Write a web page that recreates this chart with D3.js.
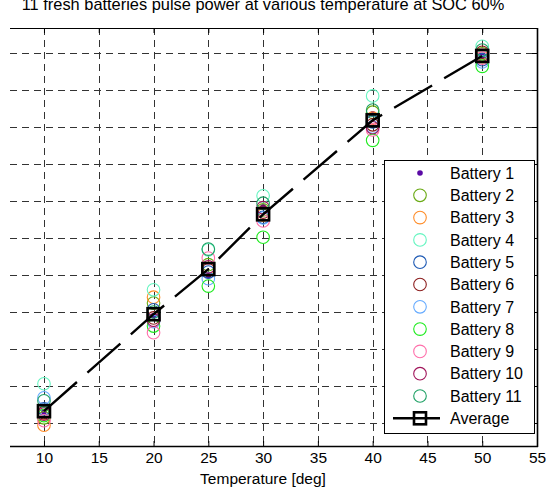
<!DOCTYPE html>
<html>
<head>
<meta charset="utf-8">
<script src="https://cdn.jsdelivr.net/npm/d3@7"></script>
<style>
  html, body { margin: 0; padding: 0; background: #fff; }
  svg { display: block; font-family: "Liberation Sans", Arial, sans-serif; }
</style>
</head>
<body>
<svg id="chart" width="554" height="489"></svg>
<script>
// Pulse power (W) of each battery at each test temperature (deg C)
const temperatures = [10, 20, 25, 30, 40, 50];
const battery1  = [315, 445, 499, 592, 718, 796];
const battery2  = [307, 462, 514, 588, 720, 799];
const battery3  = [297, 470, 509, 581, 712, 795];
const battery4  = [353, 480, 534, 607, 742, 809];
const battery5  = [319, 453, 504, 578, 707, 791];
const battery6  = [314, 442, 507, 585, 703, 801];
const battery7  = [334, 437, 495, 577, 700, 788];
const battery8  = [310, 431, 485, 551, 682, 782];
const battery9  = [303, 422, 523, 573, 696, 793];
const battery10 = [312, 439, 511, 591, 699, 797];
const battery11 = [330, 450, 535, 597, 723, 804];
const average   = [316, 447, 508, 582, 709, 796];

const seriesNames = ["Battery 1", "Battery 2", "Battery 3", "Battery 4", "Battery 5", "Battery 6",
                     "Battery 7", "Battery 8", "Battery 9", "Battery 10", "Battery 11"];
const seriesColors = ["#5a0aa5", "#6aaa14", "#ff8c28", "#64f5c0", "#1e5ab4", "#8c1e1e",
                      "#64aaff", "#1eeb1e", "#ff6eaa", "#a0145a", "#1ea064"];
const seriesValues = [battery1, battery2, battery3, battery4, battery5, battery6,
                      battery7, battery8, battery9, battery10, battery11];

const xTicks = [10, 15, 20, 25, 30, 35, 40, 45, 50, 55];
const yTicks = [300, 350, 400, 450, 500, 550, 600, 650, 700, 750, 800];

const svg = d3.select("#chart");

// plot area (left part of the axes falls outside the figure)
const plotLeft = 10, plotRight = 537, plotTop = 28, plotBottom = 446;

const x = d3.scaleLinear().domain([5, 55]).range([-10.8, 537]);
const y = d3.scaleLinear().domain([268.9, 833.8]).range([plotBottom, plotTop]);

svg.append("defs").append("clipPath").attr("id", "plotClip")
  .append("rect")
  .attr("x", plotLeft).attr("y", plotTop - 2)
  .attr("width", plotRight - plotLeft + 2).attr("height", plotBottom - plotTop + 4);

// title
svg.append("text")
  .attr("x", 263).attr("y", 10)
  .attr("text-anchor", "middle")
  .attr("font-size", 16.4)
  .attr("fill", "#000")
  .text("11 fresh batteries pulse power at various temperature at SOC 60%");

const plot = svg.append("g").attr("clip-path", "url(#plotClip)");

// dashed grid
const gridStyle = sel => sel.attr("stroke", "#333").attr("stroke-width", 1)
  .attr("stroke-dasharray", "7,5").attr("shape-rendering", "crispEdges");

plot.append("g").selectAll("line")
  .data(xTicks.filter(t => t < 55))
  .join("line")
  .attr("x1", d => Math.round(x(d)) + 0.5).attr("x2", d => Math.round(x(d)) + 0.5)
  .attr("y1", plotTop).attr("y2", plotBottom)
  .call(gridStyle);

plot.append("g").selectAll("line")
  .data(yTicks)
  .join("line")
  .attr("x1", plotLeft).attr("x2", plotRight)
  .attr("y1", d => Math.round(y(d)) + 0.5).attr("y2", d => Math.round(y(d)) + 0.5)
  .call(gridStyle);

// inward tick marks on the bottom, top and right edges
const xAxisBottom = d3.axisBottom(x).tickValues(xTicks)
  .tickSizeInner(-5).tickSizeOuter(0).tickPadding(6).tickFormat(d3.format("d"));
const gB = svg.append("g").attr("transform", `translate(0,${plotBottom})`).call(xAxisBottom);
gB.select(".domain").remove();
gB.selectAll("line").attr("stroke", "#000").attr("stroke-width", 1);
gB.selectAll("text").attr("font-size", 15.5).attr("fill", "#000")
  .attr("font-family", "Liberation Sans, Arial, sans-serif");

const xAxisTop = d3.axisTop(x).tickValues(xTicks).tickSizeInner(-5).tickSizeOuter(0).tickFormat("");
const gT = plot.append("g").attr("transform", `translate(0,${plotTop})`).call(xAxisTop);
gT.select(".domain").remove();
gT.selectAll("line").attr("stroke", "#000");

const yAxisRight = d3.axisRight(y).tickValues(yTicks).tickSizeInner(-5).tickSizeOuter(0).tickFormat("");
const gR = plot.append("g").attr("transform", `translate(${plotRight},0)`).call(yAxisRight);
gR.select(".domain").remove();
gR.selectAll("line").attr("stroke", "#000");

// battery markers
seriesValues.forEach((vals, i) => {
  const pts = temperatures.map((t, j) => ({ t, v: vals[j] }));
  const g = plot.append("g");
  if (i === 0) {
    g.selectAll("circle").data(pts).join("circle")
      .attr("cx", d => x(d.t)).attr("cy", d => y(d.v)).attr("r", 2.8)
      .attr("fill", seriesColors[i]);
  } else {
    g.selectAll("circle").data(pts).join("circle")
      .attr("cx", d => x(d.t)).attr("cy", d => y(d.v)).attr("r", 6.3)
      .attr("fill", "none").attr("stroke", seriesColors[i]).attr("stroke-width", 1.1);
  }
});

// average line with square markers
const avgPts = temperatures.map((t, j) => ({ t, v: average[j] }));
plot.append("path")
  .datum(avgPts)
  .attr("d", d3.line().x(d => x(d.t)).y(d => y(d.v)))
  .attr("fill", "none").attr("stroke", "#000").attr("stroke-width", 2.4)
  .attr("stroke-dasharray", "44,14");
plot.append("g").selectAll("rect").data(avgPts).join("rect")
  .attr("x", d => x(d.t) - 6).attr("y", d => y(d.v) - 6)
  .attr("width", 12).attr("height", 12)
  .attr("fill", "none").attr("stroke", "#000").attr("stroke-width", 2.6);

// axes border
const border = svg.append("g").attr("stroke", "#000").attr("fill", "none");
border.append("line").attr("x1", plotLeft).attr("x2", plotRight + 1)
  .attr("y1", plotTop + 0.5).attr("y2", plotTop + 0.5).attr("stroke-width", 1);
border.append("line").attr("x1", plotRight + 0.5).attr("x2", plotRight + 0.5)
  .attr("y1", plotTop).attr("y2", plotBottom + 1).attr("stroke-width", 1.6);
border.append("line").attr("x1", plotLeft).attr("x2", plotRight + 1)
  .attr("y1", plotBottom + 0.5).attr("y2", plotBottom + 0.5).attr("stroke-width", 1.6);

// x label
svg.append("text")
  .attr("x", 263).attr("y", 484)
  .attr("text-anchor", "middle")
  .attr("font-size", 15.5)
  .text("Temperature [deg]");

// legend
const legX = 384, legY = 160, legW = 150, legH = 273;
const legend = svg.append("g");
legend.append("rect")
  .attr("x", legX + 0.5).attr("y", legY + 0.5).attr("width", legW).attr("height", legH)
  .attr("fill", "#fff").attr("stroke", "#000").attr("stroke-width", 1);

const rowY = i => 173 + i * 22.3;
const markerX = 420, textX = 450;
seriesNames.forEach((name, i) => {
  if (i === 0) {
    legend.append("circle").attr("cx", markerX).attr("cy", rowY(i)).attr("r", 2.8)
      .attr("fill", seriesColors[i]);
  } else {
    legend.append("circle").attr("cx", markerX).attr("cy", rowY(i)).attr("r", 6.3)
      .attr("fill", "none").attr("stroke", seriesColors[i]).attr("stroke-width", 1.1);
  }
  legend.append("text").attr("x", textX).attr("y", rowY(i)).attr("dy", "0.36em")
    .attr("font-size", 16).text(name);
});
const avgRow = rowY(11);
legend.append("line").attr("x1", 393).attr("x2", 440).attr("y1", avgRow).attr("y2", avgRow)
  .attr("stroke", "#000").attr("stroke-width", 2.4);
legend.append("rect").attr("x", markerX - 6).attr("y", avgRow - 6).attr("width", 12).attr("height", 12)
  .attr("fill", "none").attr("stroke", "#000").attr("stroke-width", 2.6);
legend.append("text").attr("x", textX).attr("y", avgRow).attr("dy", "0.36em")
  .attr("font-size", 16).text("Average");
</script>
</body>
</html>
